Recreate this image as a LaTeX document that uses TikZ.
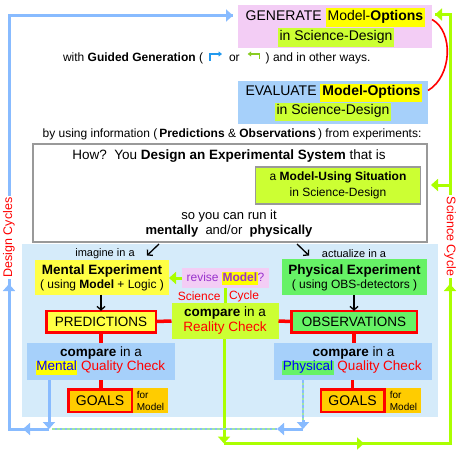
\documentclass[tikz,border=0pt]{standalone}
\usepackage{fontspec}
\setmainfont{Liberation Sans}
\usetikzlibrary{arrows.meta}
\definecolor{pinkbg}{HTML}{F3CDF5}
\definecolor{evalblue}{HTML}{A6D0FA}
\definecolor{hlyellow}{HTML}{FFFF00}
\definecolor{ygreen}{HTML}{CCFF33}
\definecolor{lightbg}{HTML}{D5EBFA}
\definecolor{mentalyel}{HTML}{FFFF44}
\definecolor{physgreen}{HTML}{66F266}
\definecolor{goalorange}{HTML}{FFCC00}
\definecolor{purp}{HTML}{9933CC}
\definecolor{blueline}{HTML}{88BBFF}
\definecolor{greenline}{HTML}{AAFF00}
\definecolor{grayb}{HTML}{999999}
\definecolor{dotgreen}{HTML}{A0E8A0}
\definecolor{txtblue}{HTML}{0000FF}
\definecolor{smallblue}{HTML}{2299EE}
\definecolor{smallgreen}{HTML}{88CC22}
\newcommand\hlbox[2]{{\setlength{\fboxsep}{2pt}\colorbox{#1}{\strut #2}}}
\newcommand\hlsm[2]{{\setlength{\fboxsep}{0.5pt}\colorbox{#1}{\strut #2}}}
\newcommand\fsz[2]{\fontsize{#1}{#2}\selectfont}
\begin{document}
\begin{tikzpicture}[x=1pt,y=-1pt,
  every node/.style={inner sep=0pt, outer sep=0pt},
  bx/.style n args={2}{minimum width=#1pt, minimum height=#2pt},
  tbig/.style={font=\fsz{14}{14}},
  tmid/.style={font=\fsz{13.5}{13.5}},
  tbody/.style={font=\fsz{13}{13}},
  tsm/.style={font=\fsz{12}{12}},
  tlab/.style={font=\fsz{11}{11}},
  rl/.style={draw=red, line width=3.5pt},
  bl/.style={draw=blueline, line width=3pt},
  gl/.style={draw=greenline, line width=3pt},
  bigtip/.style={-{Triangle[length=7pt,width=12pt]}},
  barr/.style={draw=black, line width=1.3pt, -{Straight Barb[length=3.5pt,width=8pt]}},
  dotb/.style={draw=blueline, line width=2.5pt, dash pattern=on 2.5pt off 2.5pt},
  dotg/.style={draw=dotgreen, line width=2.5pt, dash pattern=on 2.5pt off 2.5pt, dash phase=2.5pt},
  redbox/.style={draw=red, line width=2.5pt}
]
\useasboundingbox (0,0) rectangle (461,453);
\fill[white] (0,0) rectangle (461,453);

% ---------- boxes ----------
\node[bx={416}{173}, fill=lightbg] (bg) at (230,330.5) {};
\node[bx={194}{43}, fill=pinkbg] (gen) at (335,26.5) {};
\node[bx={190}{43}, fill=evalblue] (eval) at (333,102.5) {};
\node[bx={394}{98}, fill=white, draw=grayb, line width=2pt] (exp) at (230,193) {};
\node[bx={165}{37}, fill=ygreen, draw=grayb, line width=1.2pt] (mus) at (338,185.5) {};
\node[bx={134}{35}, fill=mentalyel] (ment) at (102,277) {};
\node[bx={145}{36}, fill=physgreen] (phys) at (354.5,277) {};
\node[bx={109.5}{21.5}, fill=mentalyel, redbox, tmid] (pred) at (101,321.5) {PREDICTIONS};
\node[bx={125.5}{21.5}, fill=physgreen, redbox, tmid] (obs) at (354,321.5) {OBSERVATIONS};
\node[bx={107}{36}, fill=ygreen] (real) at (225,321) {};
\node[bx={87}{20}, fill=pinkbg] (rev) at (225.5,278) {};
\node[bx={148}{37}, fill=evalblue] (cmpL) at (101,361.5) {};
\node[bx={158}{37}, fill=evalblue] (cmpR) at (353,361.5) {};
\node[bx={63.5}{22.5}, fill=goalorange, redbox, font=\fsz{14}{14}] (goalL) at (100,400.5) {GOALS};
\node[bx={35}{25}, fill=goalorange, font=\fsz{10}{12}, align=left] (forL) at (150.5,400.5) {for\\Model};
\node[bx={63.5}{22.5}, fill=goalorange, redbox, font=\fsz{14}{14}] (goalR) at (352.5,400.5) {GOALS};
\node[bx={35}{25}, fill=goalorange, font=\fsz{10}{12}, align=left] (forR) at (403.5,400.5) {for\\Model};

% ---------- texts ----------
\node[tbig] (genA) at (335.5,17.5) {GENERATE \hlbox{hlyellow}{Model-\textbf{Options}}};
\node[tbig] (genB) at (336,37.5) {\hlbox{ygreen}{in Science-Design}};
\node[tbig] (evA) at (334,93) {EVALUATE \hlbox{hlyellow}{\textbf{Model-Options}}};
\node[tbig] (evB) at (333,112) {\hlbox{ygreen}{in Science-Design}};

\node[tsm, anchor=base west] (wg1) at (63,61) {with \textbf{Guided Generation} (};
\node[tsm, anchor=base west] (wg2) at ([xshift=26pt]wg1.base east) {or};
\node[tsm, anchor=base west] (wg3) at ([xshift=26pt]wg2.base east) {) and in other ways.};
\draw[smallblue, line width=1.5pt, -{Triangle[length=3.5pt,width=5pt]}]
  ([xshift=7pt]wg1.base east) -- ++(0,-7) -- ++(12,0);
\draw[smallgreen, line width=1.5pt, -{Triangle[length=3.5pt,width=5pt]}]
  ([xshift=-6pt,yshift=2pt]wg3.base west) -- ++(0,-5) -- ++(-12,0);

\node[tsm] (byu) at (232,134) {by using information (\,\textbf{Predictions} \& \textbf{Observations}\,) from experiments:};

\node[tmid] (how) at (229,156) {How?\ \ You \textbf{Design an Experimental System} that is};
\node[tsm] (musA) at (338,177) {a \textbf{Model-Using Situation}};
\node[tsm] (musB) at (338,193) {in Science-Design};
\node[tbody] (run1) at (229,216) {so you can run it};
\node[tbody] (run2) at (229,231) {\textbf{mentally}\ \ and/or\ \ \textbf{physically}};

\node[tlab] (imag) at (105,254) {imagine in a};
\node[tlab] (actz) at (354,254) {actualize in a};

\node[tmid] (mentA) at (102,271) {\textbf{Mental Experiment}};
\node[tsm] (mentB) at (102,285) {( using \textbf{Model} + Logic )};
\node[tmid] (physA) at (354.5,271) {\textbf{Physical Experiment}};
\node[tsm] (physB) at (354.5,285) {( using OBS-detectors )};

\node[tmid] (realA) at (225,313) {\textbf{compare} in a};
\node[tmid, text=red] (realB) at (225,328) {Reality Check};

\node[tsm, text=purp] (revT) at (225.5,278.5) {revise \hlsm{hlyellow}{\textbf{Model}}?};
\node[tsm, text=red, anchor=east] (sc1) at (220.5,296) {Science};
\node[tsm, text=red, anchor=west] (sc2) at (229,296) {Cycle};

\node[tmid] (cmpLA) at (101,353) {\textbf{compare} in a};
\node[tmid] (cmpLB) at (100.5,368) {\hlsm{hlyellow}{\textcolor{txtblue}{Mental}} \textcolor{red}{Quality Check}};
\node[tmid] (cmpRA) at (353.5,353) {\textbf{compare} in a};
\node[tmid] (cmpRB) at (352,368) {\hlsm{physgreen}{\textcolor{txtblue}{Physical}} \textcolor{red}{Quality Check}};

% ---------- red connectors ----------
\draw[red, line width=1.6pt] ([yshift=7pt]gen.east) .. controls +(22,12) and +(24,-14) .. ([yshift=12pt]eval.east);
\draw[rl] (pred.east) -- (real.west);
\draw[rl] (real.east) -- (obs.west);
\draw[rl] (pred.south) -- (pred.south |- cmpL.north);
\draw[rl] (obs.south) -- (obs.south |- cmpR.north);
\draw[rl] (cmpL.south) -- (cmpL.south |- goalL.north);
\draw[rl] (goalR.north |- cmpR.south) -- (goalR.north);

% ---------- black arrows ----------
\coordinate (aLst) at (159,244);
\coordinate (aLend) at (147,255.5);
\coordinate (aRst) at (297,244);
\coordinate (aRend) at (309,255.5);
\draw[barr] (aLst) -- (aLend);
\draw[barr] (aRst) -- (aRend);
\draw[barr] (pred.north |- ment.south) -- (pred.north);
\draw[barr] (obs.north |- phys.south) -- (obs.north);

% ---------- green connectors ----------
\draw[gl, bigtip] (rev.west) -- (rev.west -| ment.east);
\draw[gl] (real.north |- rev.south) -- (real.north);
\coordinate (gBL) at (224,443.5);
\coordinate (gBR) at (450,443.5);
\coordinate (gTR) at (450,14.5);
\coordinate (gMid) at (364,443.5);
\coordinate (gUp) at (450,284);
\coordinate (gBr) at (450,185);
\draw[gl] (gBL) -- (gBR) -- (gTR) -- ([xshift=3pt]gen.east |- gTR);
\draw[gl, bigtip] (gTR) -- ([xshift=3pt]gen.east |- gTR);
\draw[gl, bigtip] (real.south -| gBL) -- (gBL);
\draw[gl, bigtip] (gBL) -- (gMid);
\draw[gl, bigtip] (gBR) -- (gUp);
\draw[gl, bigtip] (gBr) -- ([xshift=4pt]exp.east |- gBr);

% ---------- blue design cycles ----------
\coordinate (bBL) at (9,429);
\coordinate (bTL) at (9,15.5);
\coordinate (bD) at (49,429);
\coordinate (bAr) at (23,429);
\coordinate (bUp) at (9,284);
\coordinate (bDR) at (303,429);
\coordinate (bArR) at (277,429);
\coordinate (bDRa) at (303,421);
\draw[bl] (bD) -- (bBL) -- (bTL) -- ([xshift=-5pt]gen.west |- bTL);
\draw[bl, bigtip] (bTL) -- ([xshift=-5pt]gen.west |- bTL);
\draw[bl, bigtip] (bD) -- (bAr);
\draw[bl, bigtip] (bBL) -- (bUp);
\draw[bl, bigtip] (cmpL.south -| bD) -- (bD);
\draw[dotb] (bArR) -- ([xshift=3pt]bD);
\draw[dotg] (bArR) -- ([xshift=3pt]bD);
\draw[dotb] (cmpR.south -| bDR) -- (bDRa);
\draw[dotg] (cmpR.south -| bDR) -- (bDRa);
\draw[bl, bigtip] ([yshift=1pt]bDRa) -- (bDR);
\draw[bl, bigtip] (bDR) -- (bArR);

% ---------- side labels ----------
\node[rotate=90, fill=white, text=red, font=\fsz{12.5}{12.5}, inner sep=1.5pt] (dcyc) at (9,237.5) {Design Cycles};
\node[rotate=-90, fill=white, text=red, font=\fsz{12.5}{12.5}, inner sep=1.5pt] (scyc) at (450,236.5) {Science Cycle};
\end{tikzpicture}
\end{document}
